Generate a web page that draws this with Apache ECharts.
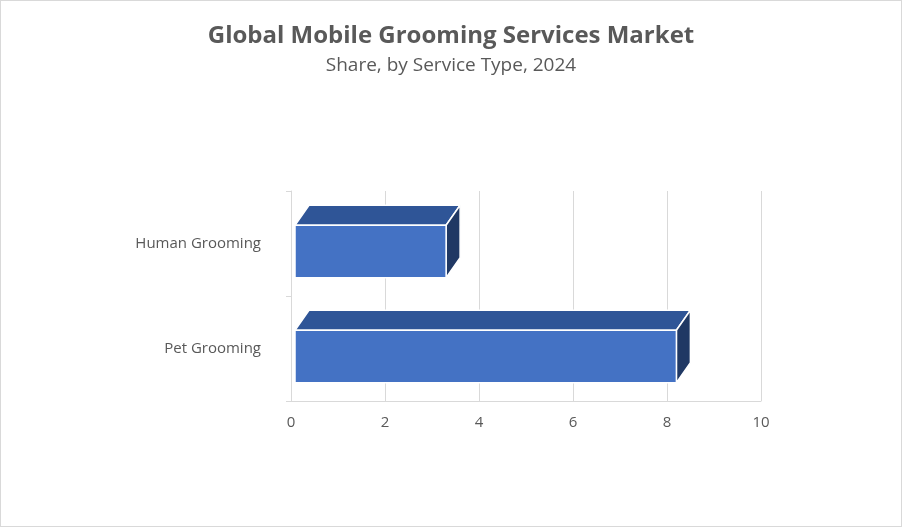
<!DOCTYPE html>
<html><head><meta charset="utf-8">
<script src="https://cdn.jsdelivr.net/npm/echarts@6/dist/echarts.min.js"></script>
<style>html,body{margin:0;padding:0;background:#fff}#c{width:900px;height:525px;border:1px solid #d9d9d9}</style>
</head><body><div id="c"></div>
<script>
var categories = ['Pet Grooming', 'Human Grooming'];
var values = [8.2, 3.3];
var ticks = [0, 2, 4, 6, 8, 10];

var chart = echarts.init(document.getElementById('c'));
var DX = 14, DY = -20;
chart.setOption({
  backgroundColor: '#fff',
  title: {
    text: 'Global Mobile Grooming Services Market',
    subtext: 'Share, by Service Type, 2024',
    left: 'center', top: 18, itemGap: 8,
    textStyle: {fontFamily: 'Open Sans', fontSize: 24, fontWeight: 'bold', color: '#595959'},
    subtextStyle: {fontFamily: 'Open Sans', fontSize: 19, color: '#595959'}
  },
  grid: {left: 290, right: 140, top: 190, bottom: 125},
  xAxis: {
    type: 'value', min: 0, max: 10, interval: 2,
    axisLabel: {fontFamily: 'Open Sans', fontSize: 15, color: '#595959', margin: 14},
    axisLine: {show: true, lineStyle: {color: '#d9d9d9'}},
    splitLine: {lineStyle: {color: '#d9d9d9'}}
  },
  yAxis: {
    type: 'category', data: categories,
    axisLabel: {fontFamily: 'Open Sans', fontSize: 15, color: '#595959', margin: 30},
    axisLine: {lineStyle: {color: '#d9d9d9'}}, axisTick: {show: true, lineStyle: {color: '#d9d9d9'}}
  },
  series: [{
    type: 'custom',
    data: values.map(function (v, i) { return [v, i]; }),
    encode: {x: 0, y: 1},
    renderItem: function (params, api) {
      var p0 = api.coord([0, api.value(1)]);
      var p1 = api.coord([api.value(0), api.value(1)]);
      var h = api.size([0, 1])[1] * 0.5;
      var x0 = p0[0] + 4, x1 = p1[0], yt = p0[1] - h / 2 + 8, yb = p0[1] + h / 2 + 8;
      var st = {stroke: '#fff', lineWidth: 1.5};
      return {type: 'group', children: [
        {type: 'polygon', shape: {points: [[x0, yt], [x1, yt], [x1 + DX, yt + DY], [x0 + DX, yt + DY]]},
          style: Object.assign({fill: '#2F5597'}, st)},
        {type: 'polygon', shape: {points: [[x1, yt], [x1 + DX, yt + DY], [x1 + DX, yb + DY], [x1, yb]]},
          style: Object.assign({fill: '#203864'}, st)},
        {type: 'rect', shape: {x: x0, y: yt, width: x1 - x0, height: yb - yt},
          style: Object.assign({fill: '#4472C4'}, st)}
      ]};
    }
  }]
});
</script></body></html>
